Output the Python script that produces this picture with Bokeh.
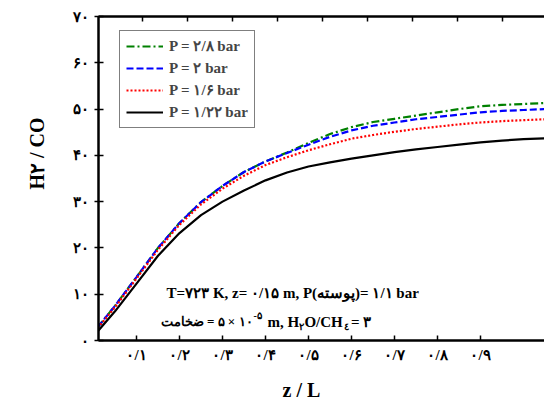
from bokeh.plotting import figure
from bokeh.models import Range1d, LinearAxis, FixedTicker, Legend, LegendItem, Label, Title
from bokeh.embed import file_html
from bokeh.resources import INLINE

# ---- data ----
z = [0.01, 0.05, 0.10, 0.15, 0.20, 0.25, 0.30, 0.35, 0.40, 0.45, 0.50,
     0.55, 0.60, 0.65, 0.70, 0.75, 0.80, 0.85, 0.90, 0.95, 1.00, 1.05]
h2co_p28 = [2.9, 7.5, 13.7, 20.0, 25.4, 29.9, 33.4, 36.4, 38.7, 40.6, 42.7,
            44.6, 46.1, 47.2, 47.9, 48.6, 49.3, 50.0, 50.6, 50.9, 51.1, 51.3]
h2co_p2 = [2.9, 7.5, 13.7, 20.0, 25.4, 29.9, 33.4, 36.4, 38.7, 40.5, 42.3,
           44.0, 45.4, 46.4, 47.1, 47.8, 48.3, 48.8, 49.3, 49.6, 49.8, 50.0]
h2co_p16 = [2.7, 7.2, 13.4, 19.6, 25.0, 29.4, 32.8, 35.6, 37.9, 39.6, 41.1,
            42.4, 43.6, 44.4, 45.1, 45.7, 46.2, 46.7, 47.1, 47.4, 47.6, 47.8]
h2co_p122 = [2.0, 6.3, 12.3, 18.3, 23.2, 27.1, 30.0, 32.4, 34.6, 36.3, 37.6,
             38.5, 39.3, 40.0, 40.7, 41.3, 41.8, 42.3, 42.8, 43.2, 43.5, 43.7]

series_labels = ["P = ۲/۸ bar", "P = ۲ bar", "P = ۱/۶ bar", "P = ۱/۲۲ bar"]
series_colors = ["#008000", "#0000ff", "#ff0000", "#000000"]
series_dash = ["8 3 2 3", "7 3", "2 2", "solid"]

x_ticks = [0.1, 0.2, 0.3, 0.4, 0.5, 0.6, 0.7, 0.8, 0.9]
x_tick_labels = ["۰/۱", "۰/۲", "۰/۳", "۰/۴", "۰/۵", "۰/۶", "۰/۷", "۰/۸", "۰/۹"]
y_ticks = [0, 10, 20, 30, 40, 50, 60, 70]
y_tick_labels = ["۰", "۱۰", "۲۰", "۳۰", "۴۰", "۵۰", "۶۰", "۷۰"]

FONT = "Liberation Serif"

p = figure(width=544, height=411, output_backend="svg", toolbar_location=None,
           x_range=Range1d(0.0116, 1.0488), y_range=Range1d(0, 70),
           min_border_left=98, min_border_right=0, min_border_top=16,
           min_border_bottom=70)
p.xgrid.visible = False
p.ygrid.visible = False
p.outline_line_color = None
p.background_fill_color = "white"
p.border_fill_color = "white"

for ax, ticks, labels in ((p.xaxis[0], x_ticks, x_tick_labels),
                          (p.yaxis[0], y_ticks, y_tick_labels)):
    ax.ticker = FixedTicker(ticks=ticks)
    ax.major_label_overrides = {t: l for t, l in zip(ticks, labels)}
    ax.minor_tick_line_color = None
    ax.axis_line_width = 2.5
    ax.major_tick_line_width = 1.5
    ax.major_label_text_font = FONT
    ax.major_label_text_font_style = "bold"
    ax.major_label_text_font_size = "15px"
    ax.major_label_text_color = "black"

p.xaxis.major_tick_in = 5
p.xaxis.major_tick_out = 0
p.xaxis.major_label_standoff = 6
p.yaxis.major_tick_in = 5
p.yaxis.major_tick_out = 4
p.yaxis.major_label_standoff = 6

# top axis (ticks only, closes the frame)
p.extra_x_ranges = {"top": Range1d(0.002, 0.993)}
top = LinearAxis(x_range_name="top", ticker=FixedTicker(ticks=x_ticks),
                 major_label_text_font_size="0px", major_label_standoff=0,
                 axis_line_color="black", axis_line_width=2.5,
                 major_tick_in=5, major_tick_out=0,
                 minor_tick_line_color=None, major_tick_line_width=1.5)
p.add_layout(top, "above")

items = []
for ys, lab, col, dash in zip([h2co_p28, h2co_p2, h2co_p16, h2co_p122],
                              series_labels, series_colors, series_dash):
    r = p.line(z, ys, line_color=col, line_width=2.2, line_dash=dash)
    items.append(LegendItem(label=lab, renderers=[r]))

legend = Legend(items=items, location=(21, 212), orientation="vertical",
                label_text_font=FONT, label_text_font_style="bold",
                label_text_font_size="15px", label_height=16, glyph_height=16,
                glyph_width=37, spacing=4, padding=6, margin=0,
                label_standoff=6, border_line_color="black",
                border_line_width=1.5, background_fill_alpha=1.0)
p.add_layout(legend, "center")


def lab(x, y, text, size="15px", align="left"):
    p.add_layout(Label(x=x, y=y, text=text, text_font=FONT,
                       text_font_style="bold", text_font_size=size,
                       text_align=align, text_baseline="middle",
                       text_color="black"))


# annotation lines (data coordinates)
lab(0.170, 10.34, "T=۷۲۳ K, z= ۰/۱۵ m, P(پوسته\u200e)= ۱/۱ bar")
lab(0.3698, 4.09, "ضخامت\u200e = ۵ × ۱۰", size="13px", align="right")
lab(0.3720, 5.5, "-۵", size="10px")
lab(0.4046, 4.09, "m, H")
lab(0.4790, 3.0, "۲", size="10px")
lab(0.4905, 4.09, "O/CH")
lab(0.5830, 3.0, "٤", size="10px")
lab(0.5990, 4.09, "= ۳")

# axis titles
xt = Title(text="z / L", align="left", offset=184, standoff=22,
           text_font=FONT, text_font_style="bold", text_font_size="20px",
           text_color="black")
p.add_layout(xt, "below")
yt = Title(text="H۲ / CO", align="left", offset=151, standoff=44,
           text_font=FONT, text_font_style="bold", text_font_size="20px",
           text_color="black")
p.add_layout(yt, "left")

open("out.html", "w").write(file_html(p, INLINE))
